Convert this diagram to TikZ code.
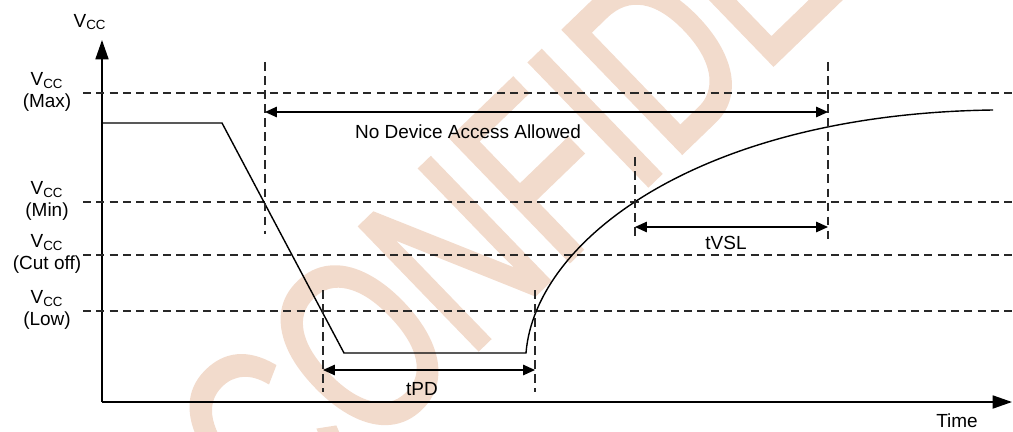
\documentclass[tikz,border=0pt]{standalone}
\usepackage{fontspec}
\setmainfont{Liberation Sans}
\newfontfamily\wmfont[FakeBold=2]{Liberation Sans}
\usepackage{xcolor}
\usetikzlibrary{arrows.meta,positioning}

\definecolor{wmcolor}{RGB}{242,219,204}
\definecolor{dashgray}{RGB}{40,40,40}

\begin{document}
\begin{tikzpicture}[
    x=0.02cm, y=-0.02cm,
    font=\fontsize{10.8}{12.5}\selectfont,
    level/.style={dash pattern=on 4.6pt off 3pt, line width=0.9pt, dashgray},
    marker/.style={dash pattern=on 5pt off 3pt, line width=0.9pt, dashgray},
    axis/.style={-{Triangle[length=11pt,width=7.4pt]}, line width=1pt},
    span/.style={{Triangle[length=6.8pt,width=6pt]}-{Triangle[length=6.8pt,width=6pt]}, line width=0.7pt},
    signal/.style={line width=0.8pt},
    vlabel/.style={align=center, inner sep=0pt},
    wmark/.style={inner sep=0pt, text=wmcolor, font=\wmfont\fontsize{100}{110}\selectfont}
]
\clip (0,0) rectangle (1013,432);

% watermark
\node[wmark, rotate=44, anchor=base west] (wm) at (278,542) {\scalebox{1}[1.4]{CONFIDENTIAL}};

% axes
\coordinate (o) at (102,402);
\coordinate (ytop) at (102,40);
\coordinate (xend) at (1012,402);
\draw[axis] (o) -- (ytop);
\draw[axis] (o) -- (xend);
\node (vcc) at (90,22) {V\textsubscript{CC}};
\node (time) at (957,421) {Time};

% supply levels
\foreach \name/\y/\txt in {max/93/Max, min/202/Min, cut/255/Cut off, low/311/Low} {
  \coordinate (\name-l) at (83,\y);
  \coordinate (\name-r) at (1013,\y);
  \draw[level] (\name-l) -- (\name-r);
  \node[vlabel] (\name-lbl) at (47,\y-1) {V\textsubscript{CC}\\(\txt)};
}

% supply waveform
\coordinate (w0) at (102,123);
\coordinate (w1) at (222,123);
\coordinate (w2) at (344,353);
\coordinate (w3) at (526,353);
\coordinate (w4) at (993,110);
\draw[signal] (w0) -- (w1) -- (w2) -- (w3) .. controls (535,240) and (700,114) .. (w4);

% timing markers
\foreach \name/\x/\ya/\yb in {a/265/62/234, b/323/290/392, c/535/290/392, d/635/157/240, e/828/62/240} {
  \coordinate (\name-t) at (\x,\ya);
  \coordinate (\name-b) at (\x,\yb);
  \draw[marker] (\name-t) -- (\name-b);
}

% intervals
\coordinate (nda-l) at (265,112);
\coordinate (nda-r) at (828,112);
\draw[span] (nda-l) -- (nda-r);
\node (nda) at (468,132) {No Device Access Allowed};

\coordinate (tpd-l) at (323,370);
\coordinate (tpd-r) at (535,370);
\draw[span] (tpd-l) -- (tpd-r);
\node (tpd) at (422,389) {tPD};

\coordinate (tvsl-l) at (635,227);
\coordinate (tvsl-r) at (828,227);
\draw[span] (tvsl-l) -- (tvsl-r);
\node (tvsl) at (726,243) {tVSL};
\end{tikzpicture}
\end{document}
